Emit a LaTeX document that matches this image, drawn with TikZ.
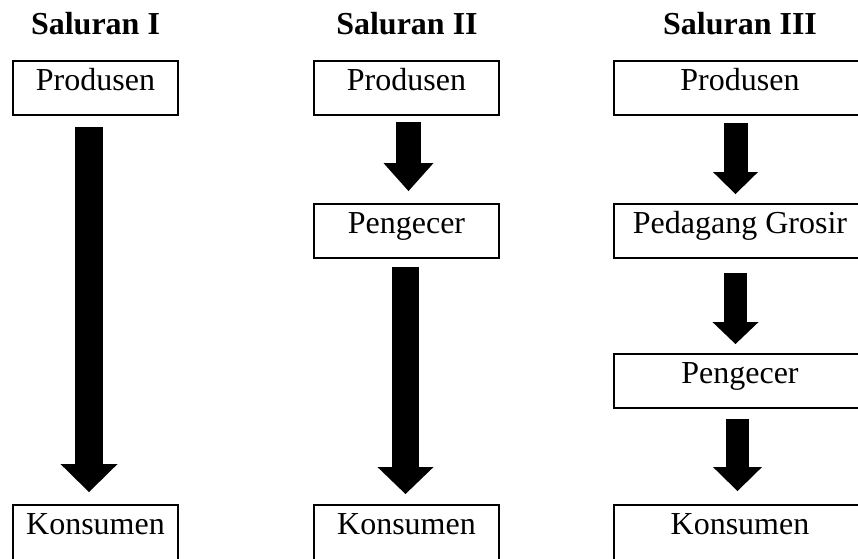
\documentclass[tikz,border=0pt]{standalone}
\usepackage{fontspec}
\setmainfont{Liberation Serif}
\usetikzlibrary{arrows.meta,positioning}

\begin{document}
\begin{tikzpicture}[x=0.75pt,y=-0.75pt,
    kotak/.style={draw,line width=1.4pt,inner sep=0pt,text height=22.5pt,text depth=18pt,anchor=base,font=\fontsize{24}{28}\selectfont},
    bawah/.style={text depth=24pt},
    judul/.style={anchor=base,font=\fontsize{24}{28}\selectfont\bfseries},
    panah/.style n args={3}{line width=#1,-{Triangle[length=#3,width=#2,line width=0pt]}}]
            \useasboundingbox (0,0) rectangle (858,559);
            %Judul
            \node[judul] (s1) at (95.5,35) {Saluran I};
            \node[judul] (s2) at (407,35) {Saluran II};
            \node[judul] (s3) at (740,35) {Saluran III};
            %Saluran I
            \node[kotak,minimum width=123.75pt] (p1) at (95.5,91) {Produsen};
            \node[kotak,bawah,minimum width=123.75pt] (k1) at (95.5,535) {Konsumen};
            %Saluran II
            \node[kotak,minimum width=138.75pt] (p2) at (406.5,91) {Produsen};
            \node[kotak,minimum width=138.75pt] (e2) at (406.5,234) {Pengecer};
            \node[kotak,bawah,minimum width=138.75pt] (k2) at (406.5,535) {Konsumen};
            %Saluran III
            \node[kotak,minimum width=189pt] (p3) at (740,91) {Produsen};
            \node[kotak,minimum width=189pt] (g3) at (740,234) {Pedagang Grosir};
            \node[kotak,minimum width=189pt] (e3) at (740,384) {Pengecer};
            \node[kotak,bawah,minimum width=189pt] (k3) at (740,535) {Konsumen};
            %Panah
            \draw[panah={21pt}{42.75pt}{21pt}] ([shift={(-6.5,11)}]p1.south) -- ([shift={(-6.5,-12)}]k1.north);
            \draw[panah={18.75pt}{37.5pt}{21pt}] ([shift={(2,6)}]p2.south) -- ([shift={(2,-12)}]e2.north);
            \draw[panah={20.25pt}{42pt}{20.25pt}] ([shift={(-1,8)}]e2.south) -- ([shift={(-1,-10)}]k2.north);
            \draw[panah={18pt}{33.75pt}{16.5pt}] ([shift={(-4.5,7)}]p3.south) -- ([shift={(-4.5,-9)}]g3.north);
            \draw[panah={17.25pt}{34.5pt}{16.5pt}] ([shift={(-4.5,14)}]g3.south) -- ([shift={(-4.5,-9)}]e3.north);
            \draw[panah={17.25pt}{36.75pt}{18pt}] ([shift={(-2.5,10)}]e3.south) -- ([shift={(-2.5,-13)}]k3.north);
\end{tikzpicture}
\end{document}
